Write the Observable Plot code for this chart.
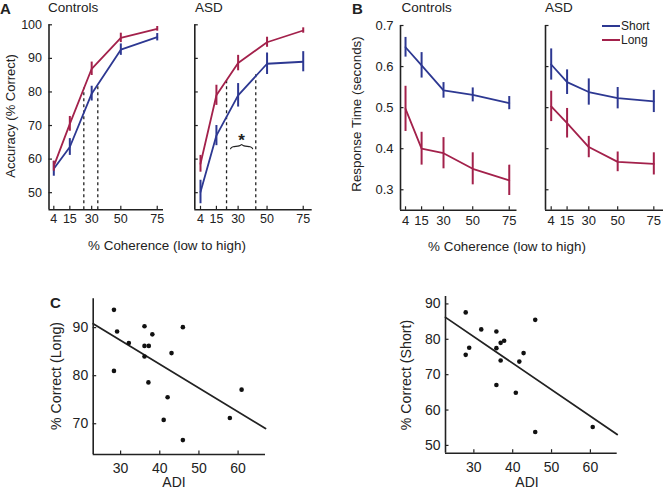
<!DOCTYPE html>
<html><head><meta charset="utf-8">
<script src="https://cdn.jsdelivr.net/npm/d3@7"></script>
<script src="https://cdn.jsdelivr.net/npm/@observablehq/plot@0.6"></script>
<style>
body{margin:0;background:#fff;}
#chart{position:relative;width:664px;height:490px;font-family:"Liberation Sans",Arial,sans-serif;color:#222;overflow:hidden;}
#chart svg{position:absolute;left:0;top:0;}
.t{position:absolute;white-space:nowrap;line-height:1;}
</style></head><body><div id="chart"></div>
<script>
// ---------- data ----------
const coherence = [4, 15, 30, 50, 75];
const seriesNames = ["Short", "Long"];
const seriesColors = ["#2d3892", "#a3214b"];

// Panel A: accuracy (% correct)
const accCtrlShort = [57.1, 63.6, 79.5, 92.6, 96.3];
const accCtrlShortErr = [2.2, 2.5, 2.2, 1.7, 1.1];
const accCtrlLong = [57.9, 70.5, 86.9, 96.1, 98.8];
const accCtrlLongErr = [1.5, 2.2, 2.0, 1.4, 0.7];
const accAsdShort = [50.2, 67.0, 79.0, 88.4, 89.0];
const accAsdShortErr = [3.5, 3.0, 3.5, 3.2, 3.0];
const accAsdLong = [58.6, 79.0, 88.6, 94.8, 98.3];
const accAsdLongErr = [2.5, 3.0, 2.3, 1.5, 0.8];
// thresholds (dashed lines) [coherence, accuracy]
const threshCtrl = [[24.6, 81.2], [34.2, 82.4]];
const threshAsd = [[22.0, 83.3], [42.2, 85.4]];
const significance = {from: 24.8, to: 40.0, at: 63.8, label: "*"};

// Panel B: response time (s)
const rtCtrlShort = [0.647, 0.603, 0.542, 0.531, 0.511];
const rtCtrlShortErr = [0.024, 0.031, 0.019, 0.017, 0.016];
const rtCtrlLong = [0.497, 0.400, 0.389, 0.351, 0.323];
const rtCtrlLongErr = [0.055, 0.040, 0.038, 0.039, 0.037];
const rtAsdShort = [0.605, 0.562, 0.538, 0.523, 0.515];
const rtAsdShortErr = [0.038, 0.030, 0.032, 0.026, 0.027];
const rtAsdLong = [0.503, 0.462, 0.404, 0.368, 0.363];
const rtAsdLongErr = [0.037, 0.036, 0.026, 0.024, 0.027];

// Panel C: ADI vs % correct
const adiLong = [28.3, 29.1, 32.1, 36.1, 38.1, 36.1, 37.2, 36.1, 45.9, 43.0, 28.3, 37.1, 42.0, 41.0, 45.9, 60.9, 57.9];
const correctLong = [93.7, 89.2, 86.8, 90.3, 88.6, 86.2, 86.2, 84.0, 90.1, 84.7, 81.0, 78.6, 75.5, 70.8, 66.6, 77.1, 71.2];
const fitLong = {intercept: 102.2, slope: -0.4955};
const adiShort = [27.9, 31.9, 35.8, 28.8, 27.9, 35.8, 36.9, 37.8, 36.9, 41.7, 42.8, 45.8, 35.8, 40.8, 45.8, 60.6];
const correctShort = [87.6, 82.8, 82.2, 77.6, 75.6, 77.5, 79.0, 79.6, 74.0, 73.7, 76.1, 85.5, 67.1, 64.9, 53.8, 55.2];
const fitShort = {intercept: 103.2, slope: -0.749};

const accTicks = [50, 60, 70, 80, 90, 100];
const rtTicks = [0.3, 0.4, 0.5, 0.6, 0.7];
const adiTicks = [30, 40, 50, 60];
const corrLongTicks = [70, 80, 90];
const corrShortTicks = [50, 60, 70, 80, 90];

// ---------- helpers ----------
const W = 664, H = 490, INK = "#222";
const chart = document.getElementById("chart");

function rows(xs, ys, es, s) {
  return xs.map((x, i) => ({x, y: ys[i], e: es ? es[i] : 0, s}));
}

function panel({box, xDomain, yDomain, xTicks, yTicks, yLabels = true, yFormat, font, xPad, yPad, marks}) {
  const [x0, x1, y0, y1] = box;
  const fw = x1 - x0, fh = y1 - y0;
  const p = Plot.plot({
    width: W, height: H,
    marginLeft: x0, marginRight: W - x1, marginTop: y0, marginBottom: H - y1,
    style: {background: "transparent", fontFamily: "Liberation Sans, Arial, sans-serif", fontSize: font + "px", color: INK},
    x: {domain: xDomain, ticks: xTicks, tickSize: 0, tickPadding: xPad, label: null},
    y: yLabels ? {domain: yDomain, ticks: yTicks, tickSize: 0, tickPadding: yPad, label: null, tickFormat: yFormat}
               : {domain: yDomain, axis: null},
    marks: [
      Plot.tickX(xTicks, {x: d => d, insetTop: fh - 3.5, stroke: INK, strokeWidth: 1.2}),
      Plot.tickY(yTicks, {y: d => d, insetRight: fw - 3.5, stroke: INK, strokeWidth: 1.2}),
      ...marks,
      Plot.ruleY([yDomain[0]], {stroke: INK, strokeWidth: 1.6}),
      Plot.ruleX([xDomain[0]], {stroke: INK, strokeWidth: 1.6})
    ]
  });
  chart.appendChild(p);
}

function curveMarks(data) {
  return [
    Plot.line(data, {x: "x", y: "y", z: "s", stroke: d => seriesColors[seriesNames.indexOf(d.s)], strokeWidth: 1.8}),
    Plot.ruleX(data, {x: "x", y1: d => d.y - d.e, y2: d => d.y + d.e, stroke: d => seriesColors[seriesNames.indexOf(d.s)], strokeWidth: 2})
  ];
}

function threshMarks(th, y0) {
  return [Plot.ruleX(th, {x: d => d[0], y1: y0, y2: d => d[1], stroke: INK, strokeWidth: 1.3, strokeDasharray: "3,3"})];
}

function text(str, x, y, {size = 13, weight = "normal", rotate = 0, anchor = "center"} = {}) {
  const d = document.createElement("div");
  d.className = "t";
  d.textContent = str;
  d.style.left = x + "px";
  d.style.top = y + "px";
  d.style.fontSize = size + "px";
  d.style.fontWeight = weight;
  const tx = anchor === "center" ? "-50%" : "0";
  d.style.transform = `translate(${tx},-50%) rotate(${rotate}deg)`;
  if (rotate) d.style.transformOrigin = "50% 50%";
  chart.appendChild(d);
}

// ---------- Panel A ----------
const accDomain = [44.9, 100];
const accCtrl = [...rows(coherence, accCtrlShort, accCtrlShortErr, "Short"), ...rows(coherence, accCtrlLong, accCtrlLongErr, "Long")];
const accAsd = [...rows(coherence, accAsdShort, accAsdShortErr, "Short"), ...rows(coherence, accAsdLong, accAsdLongErr, "Long")];

panel({box: [48.5, 163, 24.3, 209.3], xDomain: [0.7, 79.3], yDomain: accDomain, xTicks: coherence, yTicks: accTicks,
  font: 12.5, xPad: 4, yPad: 7,
  marks: [...threshMarks(threshCtrl, accDomain[0]), ...curveMarks(accCtrl)]});

const s = significance, sm = (s.from + s.to) / 2;
const bracePts = [[s.from, s.at - 0.7], [s.from + 0.9, s.at], [sm - 0.9, s.at], [sm, s.at + 0.8], [sm + 0.9, s.at], [s.to - 0.9, s.at], [s.to, s.at - 0.7]];
panel({box: [194.3, 311.7, 24.3, 209.3], xDomain: [0.06, 81.2], yDomain: accDomain, xTicks: coherence, yTicks: accTicks,
  yLabels: false, font: 12.5, xPad: 4, yPad: 7,
  marks: [...threshMarks(threshAsd, accDomain[0]), ...curveMarks(accAsd),
    Plot.line(bracePts, {x: d => d[0], y: d => d[1], stroke: INK, strokeWidth: 1.2, curve: "basis"}),
    Plot.text([s], {x: sm, y: s.at, text: "label", dy: -6, fontSize: 17, fontWeight: "bold", fill: INK})]});

// ---------- Panel B ----------
const rtDomain = [0.25, 0.7];
const rtCtrl = [...rows(coherence, rtCtrlShort, rtCtrlShortErr, "Short"), ...rows(coherence, rtCtrlLong, rtCtrlLongErr, "Long")];
const rtAsd = [...rows(coherence, rtAsdShort, rtAsdShortErr, "Short"), ...rows(coherence, rtAsdLong, rtAsdLongErr, "Long")];
panel({box: [400, 516.5, 25, 209.8], xDomain: [0.56, 80.3], yDomain: rtDomain, xTicks: coherence, yTicks: rtTicks,
  yFormat: d3.format(".1f"), font: 13, xPad: 5, yPad: 7, marks: curveMarks(rtCtrl)});
panel({box: [545, 663, 25, 209.8], xDomain: [0.06, 81.7], yDomain: rtDomain, xTicks: coherence, yTicks: rtTicks,
  yLabels: false, font: 13, xPad: 5, yPad: 7, marks: curveMarks(rtAsd)});

// ---------- Panel C ----------
function fitLine(fit, dom) { return dom.map(x => ({x, y: fit.intercept + fit.slope * x})); }
const cLongX = [23, 67], cShortX = [22.7, 66.9];
panel({box: [92.7, 265, 298.3, 454], xDomain: cLongX, yDomain: [63.6, 96], xTicks: adiTicks, yTicks: corrLongTicks,
  font: 14, xPad: 9, yPad: 5,
  marks: [Plot.line(fitLine(fitLong, cLongX), {x: "x", y: "y", stroke: INK, strokeWidth: 1.8}),
          Plot.dot(adiLong.map((x, i) => [x, correctLong[i]]), {x: d => d[0], y: d => d[1], r: 2.3, fill: "#111", stroke: "none"})]});
panel({box: [445, 616.7, 296, 452.7], xDomain: cShortX, yDomain: [47.8, 92.1], xTicks: adiTicks, yTicks: corrShortTicks,
  font: 14, xPad: 9, yPad: 5,
  marks: [Plot.line(fitLine(fitShort, cShortX), {x: "x", y: "y", stroke: INK, strokeWidth: 1.8}),
          Plot.dot(adiShort.map((x, i) => [x, correctShort[i]]), {x: d => d[0], y: d => d[1], r: 2.3, fill: "#111", stroke: "none"})]});

// ---------- texts ----------
text("A", 0, 8, {size: 15, weight: "bold", anchor: "left"});
text("Controls", 48, 8, {size: 13.5, anchor: "left"});
text("ASD", 195, 8, {size: 13.5, anchor: "left"});
text("B", 352, 8, {size: 15, weight: "bold", anchor: "left"});
text("Controls", 401.5, 8, {size: 13.5, anchor: "left"});
text("ASD", 545, 8, {size: 13.5, anchor: "left"});
text("C", 50, 302, {size: 15, weight: "bold", anchor: "left"});
text("Accuracy (% Correct)", 10, 116, {size: 13, rotate: -90});
text("% Coherence (low to high)", 167, 246, {size: 13.4});
text("Response Time (seconds)", 357, 114, {size: 13.4, rotate: -90});
text("% Coherence (low to high)", 507, 247, {size: 13.4});
text("% Correct (Long)", 56, 376, {size: 14.2, rotate: -90});
text("ADI", 174, 482, {size: 14});
text("% Correct (Short)", 406, 375, {size: 14.2, rotate: -90});
text("ADI", 527, 482, {size: 14});

// legend
seriesNames.forEach((name, i) => {
  const y = 25 + i * 14;
  const ln = document.createElement("div");
  ln.style.cssText = `position:absolute;left:602px;top:${y}px;width:18px;height:2px;background:${seriesColors[i]};`;
  chart.appendChild(ln);
  text(name, 621, y + 0.5, {size: 12, anchor: "left"});
});
</script></body></html>
